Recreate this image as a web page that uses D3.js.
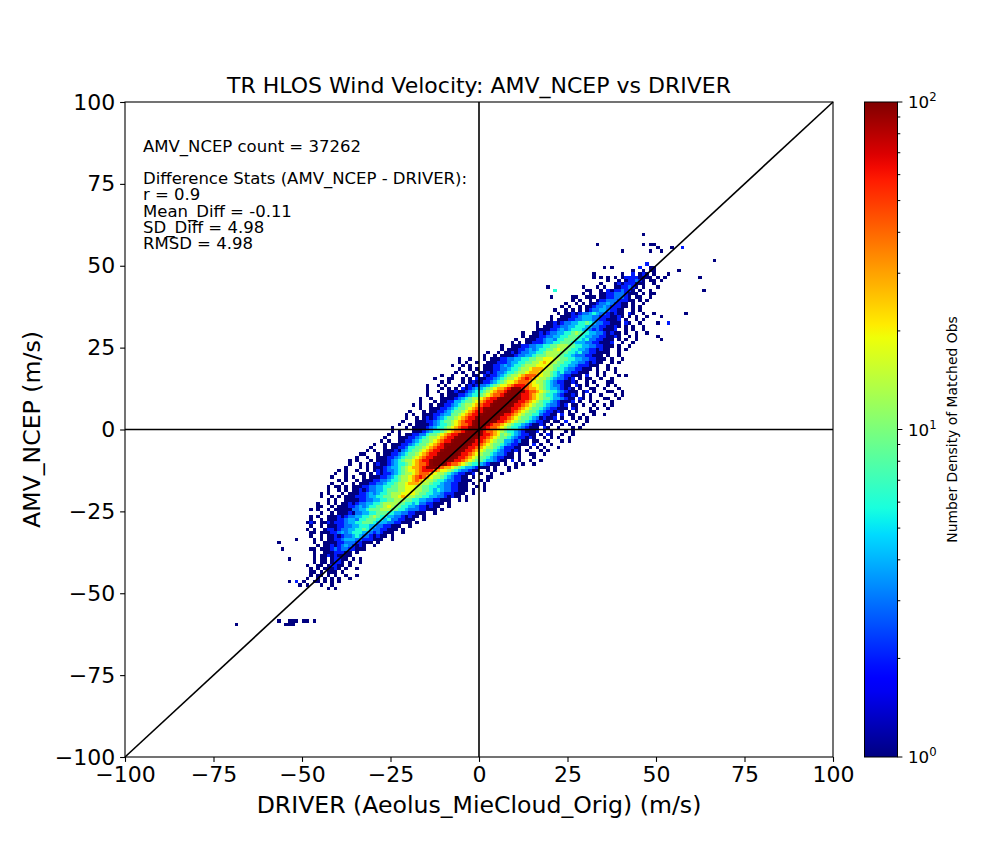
<!DOCTYPE html>
<html>
<head>
<meta charset="utf-8">
<script src="https://cdn.jsdelivr.net/npm/d3@7"></script>
<style>
  body { margin: 0; background: #fff; }
  text { font-family: "DejaVu Sans", sans-serif; fill: #000; }
</style>
</head>
<body>
<svg id="chart" width="1000" height="850"></svg>
<script>
// ---- data (1 m/s bins) ----
var titleText = "TR HLOS Wind Velocity: AMV_NCEP vs DRIVER";
var xLabelText = "DRIVER (Aeolus_MieCloud_Orig) (m/s)";
var yLabelText = "AMV_NCEP (m/s)";
var cbLabelText = "Number Density of Matched Obs";
var statLines = ["AMV_NCEP count = 37262", "", "Difference Stats (AMV_NCEP - DRIVER):",
  "r = 0.9", "Mean_Diff = -0.11", "SD_Diff = 4.98", "RMSD = 4.98"];

var xTicks = [-100, -75, -50, -25, 0, 25, 50, 75, 100];
var yTicks = [-100, -75, -50, -25, 0, 25, 50, 75, 100];
var cbTicks = [1, 10, 100];
var cbTickExp = ["0", "1", "2"];
var cbMinor = [2, 3, 4, 5, 6, 7, 8, 9, 20, 30, 40, 50, 60, 70, 80, 90];

// count code per cell: '.' = empty
var levelChars = "123456789abcde";
var levelCounts = [1, 2, 3, 4, 6, 9, 13, 19, 28, 42, 63, 95, 140, 200];

// rows of the main band: [y bin, x bin of core centre, left tail, core, right tail]
var bandRows = [
  [35, 32, "1.1", "121233454332121", "1.21..1..1"],
  [34, 31, "1..1", "112234443322211", "21.1.1..1"],
  [33, 30, "1.1", "112233444332211", "12.1..1.1"],
  [32, 29, "1..1", "1212334455654332211", "1.21..1"],
  [31, 28, "1.1", "1122334455544332211", "21.1.1..1"],
  [30, 27, "11", "1122343455544323211", "12..1.1..1"],
  [29, 27, "1..1", "12123344556765544332121", "1.1..1"],
  [28, 26, "1.1", "11223344556665544332211", "21..1.1"],
  [27, 25, "1..1", "11223443556665545332211", "1.1.1"],
  [26, 24, "1.1.", "11222344556665444332211", "12..1..1"],
  [25, 23, "1..1", "112233445566777665544332211", "1.1..1"],
  [24, 22, "1.1", "112234345566787665544322121", "1..1.1"],
  [23, 21, "1..1.1", "121233445567777665545332211", "11..1"],
  [22, 20, "1..1.1", "111233445666777665543332211", "1.1..1"],
  [21, 19, "1..1...1.1", "1122334455667788877665544332211", "1.1..1"],
  [20, 18, "1.1..1..1", "1122234455667789877665544332121", "1..1.1"],
  [19, 17, "1..1.1...1", "1122343455677788887665544322211", "1..1"],
  [18, 16, "1..1.1.1", "11223345567789998776554332211", "1.1..1.1"],
  [17, 15, "1.1..1.1", "12123345567789998776545332211", "1..1.1..1"],
  [16, 14, "1..1...1.11.2", "12234567789aaa98776543221", "11.2..1.1...1.1"],
  [15, 13, "1...11..1.1.21", "12234567789aba98776543321", "2.1.11..1..1"],
  [14, 12, ".1.1...1.121", "12234567889aaa98776543221", "121..1.1...11"],
  [13, 11, "1..1.1...1.12", "12334567889abbba98876543321", "1.21.1..1..1.1"],
  [12, 10, "1...1.1.1.2", "12344567899abcccba99876544321", "21.1..11..1...1"],
  [11, 10, "1..1..112", "11234556789aabcdddcbaa98765543211", "1.12.1...11..1"],
  [10, 9, ".1...1.11", "12234556789aabcdddcbba98765543211", "21.1.1..1...1.1"],
  [9, 8, "1..1..11", "11234567789abbcdeeedcbba98766544321", "1.21.1...11..1"],
  [8, 7, "1...1.1", "12244566789abbcdeeedcbba98765543211", "12.1..1.1...1"],
  [7, 6, "1.1..1.1", "12234567789abbcdeeedcbba98766543321", "2.11.1..1..1.1"],
  [6, 5, "1..11", "12234566789abccdeeedcbba98766543221", "11.21...1.1..1"],
  [5, 4, "1...1.1", "12234566789abbcdeeeddcba98766543221", "21.1.1...11"],
  [4, 3, "1.1..11", "12234466789abbcdeeedcbba98766553221", "1.2.11..1..1..1"],
  [3, 2, "..1..1.1", "21234566789abbcdeeedcbba98766543121", "12.1..1.1.1"],
  [2, 1, "1...11", "12234566789abbcddeedcbba98766543221", "1.11.2..1..1"],
  [1, 0, "1..1.11", "11234556789aabcdddcbaa98765543211", "21.1..1.1...1"],
  [0, -1, "1...1.11", "11234556789abbcdddcbaa98765543211", "1.21..1...1.1"],
  [-1, -2, "1.1...1", "11234556789aabcdddcbaa98765543211", "12.1.1...1.1"],
  [-2, -3, "1..1.1", "12233566789abbcdeeedcbba98676543221", "1.1.21..1..1"],
  [-3, -4, "1...11", "12234567789abbcdeeedcbba98766543221", "21..1.1.1..1"],
  [-4, -5, "1.1..1", "12234566789abbcdeeedcbba98766443231", "1.11..1...1.1"],
  [-5, -6, "1..1.11", "12234566789abccdeeedcbba98766543221", "11.2.1..1"],
  [-6, -7, "1...1.1", "12235566789abbcdeeedcbba98776542221", "1..1.1.1...1"],
  [-7, -8, "1.1..11", "12134566789abbcdeeedcbba98766543221", "21.1...1.1"],
  [-8, -9, "11...1.1", "12234566789abbcdeeedcbba98766543321", "1.1..11..1"],
  [-9, -10, "1..1..11", "12234566789abbcddeedcbba98766543221", "11.1...1"],
  [-10, -11, "1.1...1.1", "11234567789abbcdeeedcbba98766544321", "1.2.1..1..1"],
  [-11, -12, "1..1.1.12", "11234556789aabcdddcbaa98765543211", "1.1..1.1..1"],
  [-12, -14, "1...1.1.11", "12344567899abcccba99876544321", "11.1...1.1"],
  [-13, -15, "1.1..1..1.12", "12334567889abbba98876543321", "1..1.1...1"],
  [-14, -16, "1..1...11.1.2", "12234567789aaa98776543221", "12.1..1..1"],
  [-15, -17, "1...1.1..1.11", "12234567789aba98776543221", "1.1...11"],
  [-16, -18, "1.1..1.1", "11223345567789a98776554332211", "1..1.1"],
  [-17, -19, "1..1..1.1", "11223345567789998776554332211", "1.1..1"],
  [-18, -20, "1.1..1.1", "1122334455667788877665544332211", "1..1.1"],
  [-19, -20, "1..1.1.1", "1212334456667788877665454332211", "1.1..1"],
  [-20, -21, "1.1...1.1", "1122343455677788887665544322211", "1..1"],
  [-21, -22, "1..1.1.1", "1122234455667789877665544332121", "1.1"],
  [-22, -23, "1.1..11", "112233445566777665544332211", "1..1.1"],
  [-23, -25, "1..1.1.1", "121233445567777665545332211", "1.1"],
  [-24, -26, "11..1.1", "112234345566787665544322121", "1..1"],
  [-25, -27, "1.1..1.1", "111233445666777665543332211", "1.1"],
  [-26, -28, "1..1.1", "11223344556665544332211", "1..1"],
  [-27, -30, "1.1..11", "12123344556765544332121", "1.1"],
  [-28, -31, "1..1.1", "11223443556665545332211", "1..1"],
  [-29, -32, "1.11", "11222344556665444332211", "1.1"],
  [-30, -33, "1..1.1", "1122334455544332211", "1..1"],
  [-31, -34, "1.1..1", "1212334455654332211", "1.1"],
  [-32, -35, "11.1", "1122343455544323211", "1..1"],
  [-33, -35, "1..1.1", "121233454332121", "1.1"],
  [-34, -36, "1.1.", "112234443322211", "1..1"],
  [-35, -37, "1..11", "11223332211", "1.1"],
  [-36, -38, "1.1", "12123432121", "..1"],
  [-37, -39, "11.1", "11232332211", "1"],
  [-38, -40, "1..1", "1122211", ".1"],
  [-39, -41, "1.1", "1212111", "1"]
];

// thin rows at the ends of the band: [y bin, first x bin, cells]
var sparseRows = [
  [48, 43, "1..1.11"],
  [47, 40, "1..2.121.1"],
  [46, 34, "1.1.1.122221111.1"],
  [45, 36, "1..1.122321.11.1"],
  [44, 34, "1...121222111..1"],
  [43, 33, "1.1..1122321.1...1"],
  [42, 31, "1..1.21223221.1..1"],
  [41, 29, "1.1..11223332111.1..1"],
  [40, 27, "1..1.1.112233321.11..1"],
  [39, 26, "1.1..1.12233322211.1.1"],
  [38, 24, "1..1.1.11233432211.1..1"],
  [37, 23, "1.1..1.112334322211.1.1"],
  [36, 21, "1..1.1.1.12334432211..1.1"],
  [-40, -47, "1.11.12211.1.1"],
  [-41, -47, "1.11.1221.1..1"],
  [-42, -49, "1..11.12211.1"],
  [-43, -48, "1.1.11121.1..1"],
  [-44, -48, "11.1.111.1"],
  [-45, -48, "1.11.1.1..1..1"],
  [-46, -49, "1..1.1.1.1..1"],
  [-47, -54, "1.2.1..11.1.1.1"],
  [-48, -51, "1.1...1..1"],
  [-49, -43, "1.1"],
  [-59, -57, "1..111.11.1"],
  [-60, -69, "1.............111"]
];

// isolated cells: [x bin, y bin, code]
var isolated = [
  [46, 59, "1"], [46, 56, "1"], [48, 56, "1"], [49, 56, "1"], [50, 55, "1"], [51, 54, "1"],
  [48, 54, "1"], [54, 55, "1"], [57, 55, "2"], [40, 54, "1"], [33, 56, "1"], [66, 51, "1"],
  [63, 42, "1"], [62, 46, "1"], [58, 35, "1"], [56, 48, "1"], [53, 47, "1"], [52, 46, "1"],
  [47, 50, "2"], [45, 49, "2"], [48, 49, "1"], [49, 49, "1"], [35, 49, "1"], [37, 49, "1"],
  [32, 47, "1"], [32, 46, "1"], [29, 43, "1"], [19, 43, "1"], [21, 42, "5"], [20, 40, "1"],
  [26, 40, "1"], [48, 41, "1"], [53, 32, "2"], [51, 34, "1"], [50, 32, "1"], [50, 28, "1"],
  [51, 27, "1"], [47, 29, "1"], [44, 27, "1"], [30, 42, "1"], [31, 40, "1"],
  [-57, -35, "1"], [-56, -37, "1"], [-52, -34, "1"], [-54, -40, "1"], [-49, -29, "1"],
  [-48, -29, "2"], [-44, -29, "1"], [-43, -29, "2"], [-42, -29, "1"], [-44, -32, "1"],
  [-43, -31, "2"], [-40, -18, "1"], [-38, -19, "1"], [-35, -20, "1"], [-39, -25, "1"],
  [-37, -25, "1"], [-36, -26, "1"], [-39, -27, "1"]
];

// ---- build bins ----
function countOf(ch) {
  var k = levelChars.indexOf(ch);
  return k < 0 ? 0 : levelCounts[k];
}
var bins = [];
function addRow(y, x0, s) {
  for (var i = 0; i < s.length; i++) {
    var n = countOf(s[i]);
    if (n > 0) bins.push({ x: x0 + i, y: y, n: n });
  }
}
bandRows.forEach(function (r) {
  var x0 = r[1] - (r[3].length - 1) / 2 - r[2].length;
  addRow(r[0], x0, r[2] + r[3] + r[4]);
});
sparseRows.forEach(function (r) { addRow(r[0], r[1], r[2]); });
isolated.forEach(function (c) { addRow(c[1], c[0], c[2]); });

// ---- matplotlib jet ----
var jetR = d3.scaleLinear().domain([0, 0.35, 0.66, 0.89, 1]).range([0, 0, 1, 1, 0.5]).clamp(true);
var jetG = d3.scaleLinear().domain([0, 0.125, 0.375, 0.64, 0.91, 1]).range([0, 0, 1, 1, 0, 0]).clamp(true);
var jetB = d3.scaleLinear().domain([0, 0.11, 0.34, 0.65, 1]).range([0.5, 1, 1, 0, 0]).clamp(true);
function jet(t) {
  return d3.rgb(jetR(t) * 255, jetG(t) * 255, jetB(t) * 255).formatHex();
}
var norm = d3.scaleLog().domain([1, 100]).range([0, 1]).clamp(true);

// ---- layout ----
var svg = d3.select("#chart");
var plot = { left: 125, right: 833, top: 102, bottom: 757 };
var x = d3.scaleLinear().domain([-100, 100]).range([plot.left, plot.right]);
var y = d3.scaleLinear().domain([-100, 100]).range([plot.bottom, plot.top]);

svg.append("g").attr("shape-rendering", "crispEdges")
  .selectAll("rect").data(bins).join("rect")
  .attr("x", function (d) { return x(d.x); })
  .attr("y", function (d) { return y(d.y + 1); })
  .attr("width", function (d) { return x(d.x + 1) - x(d.x); })
  .attr("height", function (d) { return y(d.y) - y(d.y + 1); })
  .attr("fill", function (d) { return jet(norm(d.n)); });

// reference lines
var lines = svg.append("g").attr("stroke", "#000").attr("stroke-width", 1.6);
lines.append("line").attr("x1", x(-100)).attr("y1", y(0)).attr("x2", x(100)).attr("y2", y(0));
lines.append("line").attr("x1", x(0)).attr("y1", y(-100)).attr("x2", x(0)).attr("y2", y(100));
lines.append("line").attr("x1", x(-100)).attr("y1", y(-100)).attr("x2", x(100)).attr("y2", y(100));

// frame
svg.append("rect").attr("x", plot.left).attr("y", plot.top)
  .attr("width", plot.right - plot.left).attr("height", plot.bottom - plot.top)
  .attr("fill", "none").attr("stroke", "#000").attr("stroke-width", 1.1);

// axes
var xAxis = svg.append("g").attr("transform", "translate(0," + plot.bottom + ")")
  .call(d3.axisBottom(x).tickValues(xTicks).tickSize(4.9).tickPadding(4.9));
var yAxis = svg.append("g").attr("transform", "translate(" + plot.left + ",0)")
  .call(d3.axisLeft(y).tickValues(yTicks).tickSize(4.9).tickPadding(4.9));
[xAxis, yAxis].forEach(function (g) {
  g.select(".domain").remove();
  g.selectAll("line").attr("stroke-width", 1.1);
  g.selectAll("text").style("font-size", "22px").style("font-family", "'DejaVu Sans', sans-serif");
});

// titles
svg.append("text").attr("x", (plot.left + plot.right) / 2).attr("y", 93)
  .attr("text-anchor", "middle").style("font-size", "22px").text(titleText);
svg.append("text").attr("x", (plot.left + plot.right) / 2).attr("y", 812.5)
  .attr("text-anchor", "middle").style("font-size", "23.6px").text(xLabelText);
svg.append("text").attr("transform", "translate(40," + (plot.top + plot.bottom) / 2 + ") rotate(-90)")
  .attr("text-anchor", "middle").style("font-size", "23.6px").text(yLabelText);

// stats box text
var statY = [151.5, 168, 184, 200.3, 216.6, 232.9, 249.2];
svg.append("g").selectAll("text").data(statLines).join("text")
  .attr("x", 143).attr("y", function (d, i) { return statY[i]; })
  .style("font-size", "16.5px").text(function (d) { return d; });

// ---- colorbar ----
var cb = { left: 864.5, right: 897.5 };
var cy = d3.scaleLog().domain([1, 100]).range([plot.bottom, plot.top]);
var grad = svg.append("defs").append("linearGradient").attr("id", "jetgrad")
  .attr("x1", 0).attr("y1", 1).attr("x2", 0).attr("y2", 0);
d3.range(0, 1.0001, 0.02).forEach(function (t) {
  grad.append("stop").attr("offset", t).attr("stop-color", jet(t));
});
svg.append("rect").attr("x", cb.left).attr("y", plot.top)
  .attr("width", cb.right - cb.left).attr("height", plot.bottom - plot.top)
  .attr("fill", "url(#jetgrad)").attr("stroke", "#000").attr("stroke-width", 1);

var cbg = svg.append("g").attr("stroke", "#000").attr("stroke-width", 1);
cbg.selectAll("line.major").data(cbTicks).join("line").attr("class", "major")
  .attr("x1", cb.right).attr("x2", cb.right + 4.9)
  .attr("y1", function (d) { return cy(d); }).attr("y2", function (d) { return cy(d); });
cbg.selectAll("line.minor").data(cbMinor).join("line").attr("class", "minor")
  .attr("x1", cb.right).attr("x2", cb.right + 2.8)
  .attr("y1", function (d) { return cy(d); }).attr("y2", function (d) { return cy(d); });

var cbl = svg.append("g").selectAll("text").data(cbTicks).join("text")
  .attr("x", cb.right + 10.5).attr("y", function (d) { return cy(d) + 6; })
  .style("font-size", "16.7px");
cbl.append("tspan").text("10");
cbl.append("tspan").attr("dy", -7).style("font-size", "11.7px")
  .text(function (d, i) { return cbTickExp[i]; });

svg.append("text").attr("transform", "translate(957," + (plot.top + plot.bottom) / 2 + ") rotate(-90)")
  .attr("text-anchor", "middle").style("font-size", "13.9px").text(cbLabelText);
</script>
</body>
</html>
